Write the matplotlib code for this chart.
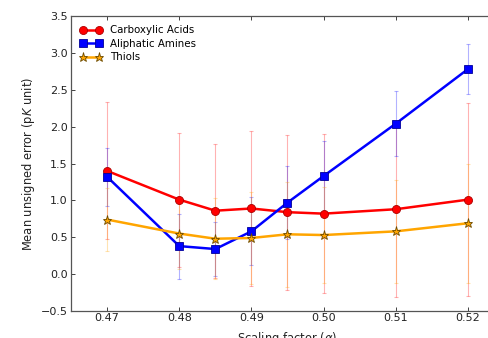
import matplotlib
matplotlib.use("Agg")
import matplotlib.pyplot as plt

scaling = [0.47, 0.48, 0.485, 0.49, 0.495, 0.50, 0.51, 0.52]

carboxylic = [1.40, 1.01, 0.86, 0.89, 0.84, 0.82, 0.88, 1.01]
carboxylic_err = [0.93, 0.91, 0.91, 1.05, 1.05, 1.08, 1.19, 1.31]

amines = [1.32, 0.38, 0.34, 0.58, 0.97, 1.33, 2.04, 2.78]
amines_err = [0.39, 0.44, 0.37, 0.46, 0.49, 0.47, 0.44, 0.34]

thiols = [0.74, 0.55, 0.48, 0.49, 0.54, 0.53, 0.58, 0.69]
thiols_err = [0.43, 0.48, 0.55, 0.62, 0.71, 0.65, 0.70, 0.81]

series = [
    ("Carboxylic Acids", carboxylic, carboxylic_err, "red", "#aa0000", "o", 5.8),
    ("Aliphatic Amines", amines, amines_err, "blue", "#000099", "s", 5.5),
    ("Thiols", thiols, thiols_err, "orange", "#6b4a00", "*", 6.5),
]

fig = plt.figure(figsize=(4.89, 3.38), dpi=100)
ax = fig.add_axes([71/489, 27/338, 433/489, 295/338])

for i, (name, vals, errs, c, ec, m, ms) in enumerate(series):
    cont = ax.errorbar(scaling, vals, yerr=errs, fmt="none", ecolor=c,
                       elinewidth=0.8, capsize=1.6, capthick=0.8, zorder=1 + i)
    for cl in cont[1]:
        cl.set_alpha(0.3)
    for bl in cont[2]:
        bl.set_alpha(0.3)

for i, (name, vals, errs, c, ec, m, ms) in enumerate(series):
    ax.plot(scaling, vals, "-", color=c, lw=1.8, marker=m, ms=ms,
            markeredgecolor=ec, markeredgewidth=0.6, label=name, zorder=5 + i)

ax.set_xlim(0.465, 0.525)
ax.set_ylim(-0.5, 3.5)
ax.set_xticks([0.47, 0.48, 0.49, 0.50, 0.51, 0.52])
ax.set_xticklabels(["0.47", "0.48", "0.49", "0.50", "0.51", "0.52"])
ax.set_yticks([-0.5, 0.0, 0.5, 1.0, 1.5, 2.0, 2.5, 3.0, 3.5])
ax.set_yticklabels(["\u22120.5", "0.0", "0.5", "1.0", "1.5", "2.0", "2.5", "3.0", "3.5"])
ax.tick_params(direction="in", top=True, right=True, labelsize=8, colors="#222222",
               length=3, width=0.6)
ax.tick_params(axis="x", pad=1.5)
ax.tick_params(axis="y", pad=2.5)
for sp in ax.spines.values():
    sp.set_color("#555555")
    sp.set_linewidth(0.9)

ax.set_xlabel(r"Scaling factor ($\alpha$)", fontsize=8.3, color="#222222", labelpad=5)
ax.set_ylabel(r"Mean unsigned error (p$K$ unit)", fontsize=8.3, color="#222222", labelpad=2.5)

leg = ax.legend(loc="upper left", frameon=False, numpoints=2, fontsize=7.4,
                handlelength=2.1, borderaxespad=0.5, labelspacing=0.35)

fig.savefig("out.png", dpi=100)
